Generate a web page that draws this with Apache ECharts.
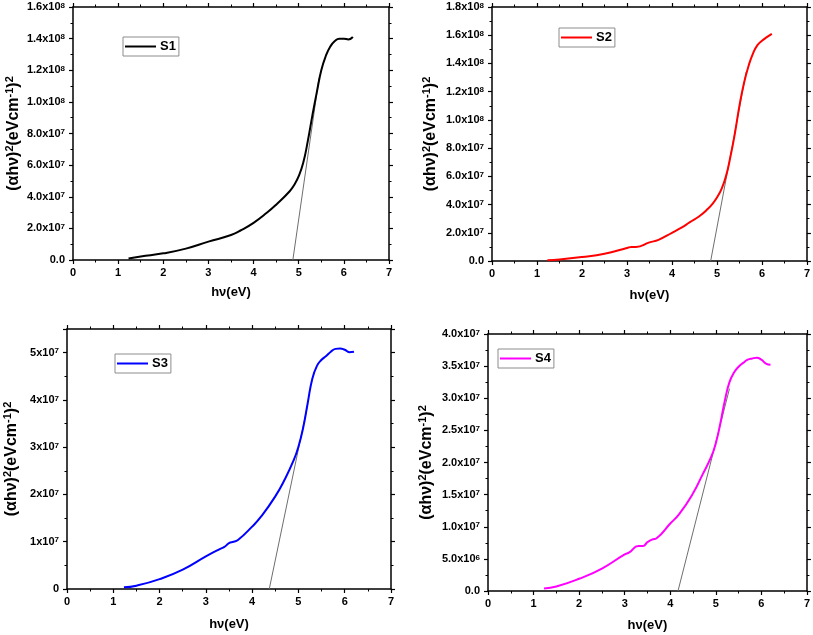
<!DOCTYPE html>
<html>
<head>
<meta charset="utf-8">
<script src="https://cdn.jsdelivr.net/npm/echarts@6/dist/echarts.min.js"></script>
<style>html,body{margin:0;padding:0;background:#fff}#c{width:813px;height:635px}</style>
</head>
<body>
<div id="c"></div>
<script>
// ---- data ----
const xTicks = ['0','1','2','3','4','5','6','7'];

const hv1 = [1.23,1.5,2,2.5,3,3.5,3.7,4,4.3,4.5,4.8,4.9,5.0,5.1,5.2,5.3,5.4,5.5,5.6,5.7,5.8,5.9,6.0,6.1,6.2];
const s1  = [1.0e6,2.2e6,4.2e6,7.2e6,1.16e7,1.58e7,1.85e7,2.35e7,3.0e7,3.5e7,4.35e7,4.75e7,5.3e7,6.15e7,7.5e7,9.1e7,1.06e8,1.2e8,1.29e8,1.35e8,1.385e8,1.40e8,1.40e8,1.395e8,1.41e8];
const tanX1 = [4.87, 5.45];
const tanY1 = [0, 1.15e8];
const yTicks1 = ['0.0','2.0x10^7','4.0x10^7','6.0x10^7','8.0x10^7','1.0x10^8','1.2x10^8','1.4x10^8','1.6x10^8'];

const hv2 = [1.23,1.5,2,2.5,3,3.1,3.2,3.5,3.7,4,4.2,4.4,4.6,4.8,4.9,5.0,5.1,5.2,5.3,5.4,5.5,5.6,5.7,5.8,5.9,6.0,6.1,6.22];
const s2  = [5e5,1.0e6,2.8e6,5.2e6,9.2e6,1.0e7,1.0e7,1.32e7,1.5e7,2.0e7,2.35e7,2.75e7,3.15e7,3.7e7,4.05e7,4.5e7,5.1e7,6.0e7,7.4e7,9.07e7,1.1e8,1.26e8,1.38e8,1.47e8,1.53e8,1.56e8,1.585e8,1.61e8];
const tanX2 = [4.86, 5.65];
const tanY2 = [0, 1.34e8];
const yTicks2 = ['0.0','2.0x10^7','4.0x10^7','6.0x10^7','8.0x10^7','1.0x10^8','1.2x10^8','1.4x10^8','1.6x10^8','1.8x10^8'];

const hv3 = [1.23,1.5,2,2.5,3,3.3,3.4,3.5,3.6,3.7,4,4.2,4.5,4.7,4.9,5.0,5.1,5.2,5.3,5.4,5.5,5.6,5.7,5.8,5.9,6.0,6.1,6.2];
const s3  = [3.5e5,7e5,2.1e6,4.1e6,6.9e6,8.45e6,8.9e6,9.7e6,1.0e7,1.04e7,1.32e7,1.54e7,1.96e7,2.31e7,2.73e7,3.01e7,3.4e7,3.93e7,4.45e7,4.72e7,4.85e7,4.93e7,5.02e7,5.08e7,5.09e7,5.06e7,5.01e7,5.02e7];
const tanX3 = [4.37, 5.2];
const tanY3 = [0, 3.9e7];
const yTicks3 = ['0','1x10^7','2x10^7','3x10^7','4x10^7','5x10^7'];

const hv4 = [1.23,1.5,2,2.5,3,3.1,3.3,3.4,3.5,3.6,3.7,4.0,4.2,4.5,4.7,4.9,5.0,5.1,5.2,5.3,5.4,5.5,5.6,5.7,5.8,5.9,6.0,6.1,6.2];
const s4  = [4e5,7e5,1.9e6,3.5e6,5.7e6,6.0e6,7.0e6,7.0e6,7.6e6,8.0e6,8.2e6,1.05e7,1.2e7,1.52e7,1.8e7,2.09e7,2.3e7,2.61e7,2.97e7,3.25e7,3.4e7,3.49e7,3.55e7,3.6e7,3.62e7,3.63e7,3.6e7,3.54e7,3.52e7];
const tanX4 = [4.17, 5.3];
const tanY4 = [0, 3.15e7];
const yTicks4 = ['0.0','5.0x10^6','1.0x10^7','1.5x10^7','2.0x10^7','2.5x10^7','3.0x10^7','3.5x10^7','4.0x10^7'];

const seriesNames = ['S1','S2','S3','S4'];
const seriesColors = ['#000000','#ff0000','#0000ff','#ff00ff'];

// ---- layout / build ----
const FONT = 'Liberation Sans, Arial, sans-serif';
const panels = [
  {hv:hv1, y:s1, tx:tanX1, ty:tanY1, ticks:yTicks1, yMax:1.6e8, yInt:2e7,
   grid:{left:73, top:7, width:316, height:253}, legend:{left:123, top:37}, yGap:50, xGap:26},
  {hv:hv2, y:s2, tx:tanX2, ty:tanY2, ticks:yTicks2, yMax:1.8e8, yInt:2e7,
   grid:{left:492, top:7, width:317, height:254}, legend:{left:559, top:28}, yGap:52, xGap:28},
  {hv:hv3, y:s3, tx:tanX3, ty:tanY3, ticks:yTicks3, yMax:5.5e7, yInt:1e7,
   grid:{left:67, top:329, width:324, height:260}, legend:{left:115, top:354}, yGap:46, xGap:29},
  {hv:hv4, y:s4, tx:tanX4, ty:tanY4, ticks:yTicks4, yMax:4e7, yInt:5e6,
   grid:{left:488, top:334, width:320, height:257}, legend:{left:498, top:349}, yGap:52, xGap:28}
];

const supRich = {
  n: {fontSize:11, fontWeight:'bold', fontFamily:FONT, color:'#000', lineHeight:11, verticalAlign:'bottom'},
  s: {fontSize:8, fontWeight:'bold', fontFamily:FONT, color:'#000', lineHeight:8, padding:[0,0,7,0], verticalAlign:'top'}
};
function toRich(t){
  const m = t.split('^');
  return m.length === 2 ? '{n|' + m[0] + '}{s|' + m[1] + '}' : '{n|' + t + '}';
}

const lineStyleAxis = {color:'#000', width:1.5};
const grids = [], xAxes = [], yAxes = [], series = [], legends = [];

panels.forEach((p, i) => {
  grids.push(Object.assign({containLabel:false}, p.grid));
  const xBase = {
    type:'value', gridIndex:i, min:0, max:7, interval:1,
    axisLine:{show:true, onZero:false, lineStyle:lineStyleAxis},
    axisTick:{show:true, inside:false, length:4, lineStyle:{color:'#000', width:1.2}},
    minorTick:{show:true, splitNumber:2, length:2.5, lineStyle:{color:'#000', width:1}},
    splitLine:{show:false}
  };
  xAxes.push(Object.assign({}, xBase, {
    position:'bottom',
    name:'hν(eV)', nameLocation:'middle', nameGap:p.xGap,
    nameTextStyle:{fontSize:13, fontWeight:'bold', fontFamily:FONT, color:'#000'},
    axisLabel:{show:true, margin:7, fontSize:11, fontWeight:'bold', fontFamily:FONT, color:'#000',
      formatter:(v)=>{const k=Math.round(v); return Math.abs(v-k)<1e-6 ? xTicks[k] : '';}}
  }));
  xAxes.push(Object.assign({}, xBase, {position:'top', axisLabel:{show:false}}));

  const yBase = {
    type:'value', gridIndex:i, min:0, max:p.yMax, interval:p.yInt,
    axisLine:{show:true, onZero:false, lineStyle:lineStyleAxis},
    axisTick:{show:true, inside:false, length:4, lineStyle:{color:'#000', width:1.2}},
    minorTick:{show:true, splitNumber:2, length:2.5, lineStyle:{color:'#000', width:1}},
    splitLine:{show:false}
  };
  const ticks = p.ticks, yInt = p.yInt;
  yAxes.push(Object.assign({}, yBase, {
    position:'left',
    name:'(αhν){s|2}(eVcm{s|-1}){s|2}', nameLocation:'middle', nameGap:p.yGap, nameRotate:90,
    nameTextStyle:{fontSize:16, fontWeight:'bold', fontFamily:FONT, color:'#000', verticalAlign:'bottom',
      rich:{s:{fontSize:11, fontWeight:'bold', fontFamily:FONT, color:'#000', padding:[0,0,8,0], verticalAlign:'top'}}},
    axisLabel:{show:true, margin:8, rich:supRich,
      formatter:(v)=>{const k=Math.round(v/yInt); return (Math.abs(v/yInt-k)<1e-6 && ticks[k]!==undefined) ? toRich(ticks[k]) : '';}}
  }));
  yAxes.push(Object.assign({}, yBase, {position:'right', axisLabel:{show:false}}));

  series.push({
    type:'line', name:'tangent' + (i+1), xAxisIndex:2*i, yAxisIndex:2*i,
    data:p.tx.map((x,j)=>[x, p.ty[j]]), symbol:'none', silent:true,
    lineStyle:{color:'#6e6e6e', width:1}, z:2
  });
  series.push({
    type:'line', name:seriesNames[i], xAxisIndex:2*i, yAxisIndex:2*i,
    data:p.hv.map((x,j)=>[x, p.y[j]]), symbol:'none', smooth:0.5,
    lineStyle:{color:seriesColors[i], width:2}, itemStyle:{color:seriesColors[i]}, z:3
  });
  legends.push({
    data:[seriesNames[i]], left:p.legend.left, top:p.legend.top, orient:'horizontal',
    icon:'rect', itemWidth:31, itemHeight:2, itemGap:4,
    borderColor:'#8c8c8c', borderWidth:1, padding:[3,3,3,2],
    textStyle:{fontSize:13, fontWeight:'bold', fontFamily:FONT, color:'#000', padding:[0,0,0,-1]},
    selectedMode:false
  });
});

const chart = echarts.init(document.getElementById('c'), null, {renderer:'canvas'});
chart.setOption({
  backgroundColor:'#ffffff',
  animation:false,
  grid:grids, xAxis:xAxes, yAxis:yAxes, series:series, legend:legends
});
</script>
</body>
</html>
